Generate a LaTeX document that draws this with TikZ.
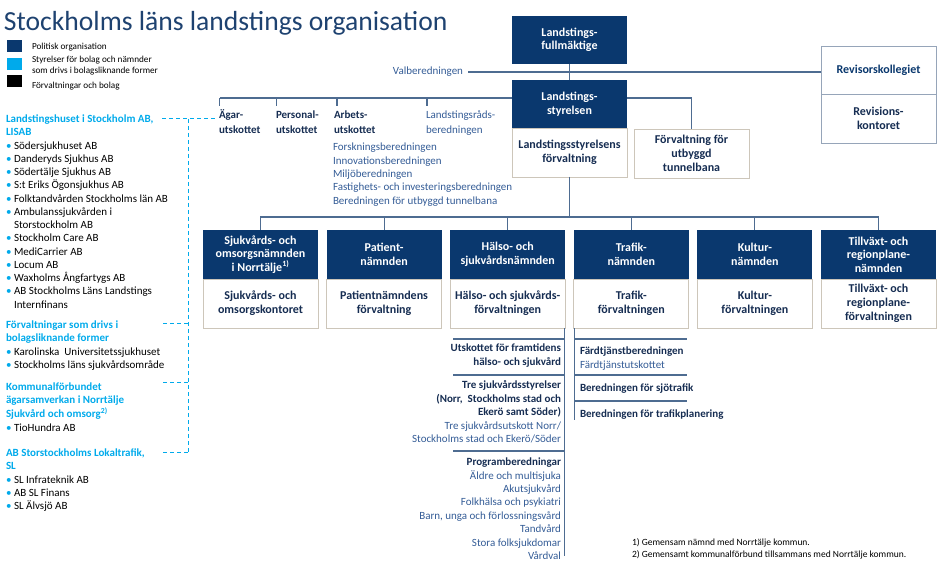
\documentclass[tikz,border=0pt]{standalone}
\usepackage{fontspec}
\setmainfont{Carlito}
\usetikzlibrary{arrows.meta}
\usetikzlibrary{calc,positioning}

\definecolor{navy}{RGB}{10,56,110}
\definecolor{cyanc}{RGB}{0,170,235}
\definecolor{linec}{RGB}{78,108,145}
\definecolor{boxline}{RGB}{205,198,186}
\definecolor{revline}{RGB}{150,165,185}
\definecolor{titleblue}{RGB}{30,66,112}
\definecolor{textnavy}{RGB}{22,45,82}
\definecolor{midblue}{RGB}{52,92,150}

\newcommand{\cyanhead}[1]{{\bfseries\color{cyanc}#1}}
\newcommand{\blt}{\makebox[8pt][l]{\color{cyanc}\textbullet}}
\newcommand{\bltind}{\hspace*{8pt}}
\newcommand{\hdl}[1]{{\bfseries\color{textnavy}#1}}

\begin{document}
\begin{tikzpicture}[x=1pt, y=-1pt,
    every node/.style={inner sep=0pt, outer sep=0pt},
    navybox/.style={fill=navy, text=white, font=\fontsize{12}{13.5}\selectfont\bfseries,
        align=center, minimum width=115pt, minimum height=48pt},
    whitebox/.style={draw=boxline, line width=0.8pt, fill=white, text=textnavy,
        font=\fontsize{12}{14}\selectfont\bfseries, align=center,
        minimum width=115pt, minimum height=49pt},
    revbox/.style={whitebox, draw=revline},
    conn/.style={draw=linec, line width=1.1pt},
    cyandash/.style={draw=cyanc, line width=1pt, dash pattern=on 4pt off 3pt},
    branch/.style={font=\fontsize{11}{15}\selectfont\bfseries, text=textnavy, align=left},
    sublist/.style={font=\fontsize{11}{13.4}\selectfont, text=midblue, align=left},
    leftcol/.style={font=\fontsize{11}{13.25}\selectfont, text=black, align=left},
    legsq/.style={minimum width=15pt, minimum height=12pt},
    legtxt/.style={font=\fontsize{9.2}{11.5}\selectfont, text=black, align=left}]
\useasboundingbox (0,0) rectangle (943,564);

% title and legend
\node[anchor=west, font=\fontsize{27.6}{32}\selectfont, text=titleblue] (title) at (4,23)
    {Stockholms läns landstings organisation};
\node[legsq, fill=navy, anchor=north west] (lg1) at (7,40) {};
\node[legsq, fill=cyanc, anchor=north west] (lg2) at (7,58) {};
\node[legsq, fill=black, anchor=north west] (lg3) at (7,75) {};
\node[legtxt, anchor=west] (lt1) at (32,47) {Politisk organisation};
\node[legtxt, anchor=north west] (lt2) at (32,56) {Styrelser för bolag och nämnder\\som drivs i bolagsliknande former};
\node[legtxt, anchor=west] (lt3) at (32,86) {Förvaltningar och bolag};

% top of the organisation
\node[navybox, anchor=north west] (lf) at (512,16) {Landstings-\\fullmäktige};
\node[navybox, anchor=north west] (ls) at (512,80) {Landstings-\\styrelsen};
\node[whitebox, below=0pt of ls] (lsf) {Landstingsstyrelsens\\förvaltning};
\node[whitebox, anchor=north west] (fut) at (634,129) {Förvaltning för\\utbyggd\\tunnelbana};
\node[revbox, anchor=north west, text=navy, minimum height=48pt] (rk) at (821,46) {Revisorskollegiet};
\node[revbox, below=0pt of rk] (rko) {Revisions-\\kontoret};
\node[font=\fontsize{11}{13}\selectfont, text=midblue] (valb) at (428,72) {Valberedningen};

\draw[conn] (lf) -- (ls);
\draw[conn] ([xshift=5pt]valb.east) -- (valb.east -| rk.west);
\draw[conn] ([yshift=-18pt]ls.north east) -| (fut.north);

% utskott under landstingsstyrelsen
\node[branch, anchor=north west] (agar) at (219,110) {Ägar-\\utskottet};
\node[branch, anchor=north west] (pers) at (276,111) {Personal-\\utskottet};
\node[branch, anchor=north west] (arb) at (334,111) {Arbets-\\utskottet};
\node[sublist, anchor=north west, font=\fontsize{11}{15}\selectfont] (lrb) at (426,111) {Landstingsråds-\\beredningen};
\node[sublist, anchor=north west] (arbl) at (333,143) {Forskningsberedningen\\Innovationsberedningen\\Miljöberedningen\\Fastighets- och investeringsberedningen\\Beredningen för utbyggd tunnelbana};

\coordinate (lsbus) at ([yshift=-18pt]ls.north west);
\draw[conn] (lsbus) -- ([xshift=0.5pt]agar.north west |- lsbus);
\foreach \n/\dx/\dy in {agar/0.5/4, pers/0.5/5, arb/3/5, lrb/1/5}
    \draw[conn] ([xshift=\dx pt]\n.north west |- lsbus) -- ([xshift=\dx pt, yshift=\dy pt]\n.north west);

% nämnder
\foreach \i/\tx/\bx in {
    0/{Sjukvårds- och\\omsorgsnämnden\\i Norrtälje\textsuperscript{1)}}/{Sjukvårds- och\\omsorgskontoret},
    1/{Patient-\\nämnden}/{Patientnämndens\\förvaltning},
    2/{Hälso- och\\sjukvårdsnämnden}/{Hälso- och sjukvårds-\\förvaltningen},
    3/{Trafik-\\nämnden}/{Trafik-\\förvaltningen},
    4/{Kultur-\\nämnden}/{Kultur-\\förvaltningen},
    5/{Tillväxt- och\\regionplane-\\nämnden}/{Tillväxt- och\\regionplane-\\förvaltningen}} {
    \node[navybox, anchor=north west, minimum height=49pt] (n\i) at ({203+123.6*\i},230) {\tx};
    \node[whitebox, below=0pt of n\i] (f\i) {\bx};
}
\coordinate (bar) at (lsf.south |- 0,217);
\draw[conn] (lsf) -- (bar);
\draw[conn] (n0.north) -- (n0.north |- bar) -- (n5.north |- bar) -- (n5.north);
\foreach \i in {1,...,4}
    \draw[conn] (n\i.north |- bar) -- (n\i.north);

% beredningar under hälso- och sjukvårdsnämnden och trafiknämnden
\draw[conn] ([xshift=-1pt]f2.south east) -- ++(0,228);
\draw[conn] ([xshift=1pt]f3.south west) -- ++(0,92);
\foreach \y in {339,375,451}
    \draw[conn] (453,\y) -- (565,\y);
\foreach \y in {339,375,401}
    \draw[conn] (574,\y) -- (687,\y);

\node[sublist, align=right, anchor=north east] (ufh) at (561,344)
    {\hdl{Utskottet för framtidens}\\\hdl{hälso- och sjukvård}};
\node[sublist, align=right, anchor=north east] (tre) at (561,381)
    {\hdl{Tre sjukvårdsstyrelser}\\\hdl{(Norr,~ Stockholms stad och}\\\hdl{Ekerö samt Söder)}\\Tre sjukvårdsutskott Norr/\\Stockholms stad och Ekerö/Söder};
\node[sublist, align=right, anchor=north east] (prog) at (561,458)
    {\hdl{Programberedningar}\\Äldre och multisjuka\\Akutsjukvård\\Folkhälsa och psykiatri\\Barn, unga och förlossningsvård\\Tandvård\\Stora folksjukdomar\\Vårdval};
\node[sublist, anchor=north west] (fard) at (580,347)
    {\hdl{Färdtjänstberedningen}\\Färdtjänstutskottet};
\node[sublist, anchor=north west] (sjo) at (580,384) {\hdl{Beredningen för sjötrafik}};
\node[sublist, anchor=north west] (tpl) at (580,410) {\hdl{Beredningen för trafikplanering}};

% bolag till vänster
\node[leftcol, anchor=north west] (lisab) at (6,115)
    {\cyanhead{Landstingshuset i Stockholm AB,}\\\cyanhead{LISAB}\\
     \blt Södersjukhuset AB\\\blt Danderyds Sjukhus AB\\\blt Södertälje Sjukhus AB\\
     \blt S:t Eriks Ögonsjukhus AB\\\blt Folktandvården Stockholms län AB\\
     \blt Ambulanssjukvården i\\\bltind Storstockholm AB\\\blt Stockholm Care AB\\
     \blt MediCarrier AB\\\blt Locum AB\\\blt Waxholms Ångfartygs AB\\
     \blt AB Stockholms Läns Landstings\\\bltind Internfinans};
\node[leftcol, anchor=north west] (fbf) at (6,321)
    {\cyanhead{Förvaltningar som drivs i}\\\cyanhead{bolagsliknande former}\\
     \blt Karolinska~ Universitetssjukhuset\\\blt Stockholms läns sjukvårdsområde};
\node[leftcol, anchor=north west] (kfb) at (6,383)
    {\cyanhead{Kommunalförbundet}\\\cyanhead{ägarsamverkan i Norrtälje}\\
     \cyanhead{Sjukvård och omsorg\textsuperscript{2)}}\\[1pt]\blt TioHundra AB};
\node[leftcol, anchor=north west] (sl) at (6,449)
    {\cyanhead{AB Storstockholms Lokaltrafik,}\\\cyanhead{SL}\\
     \blt SL Infrateknik AB\\\blt AB SL Finans\\\blt SL Älvsjö AB};

\coordinate (cbus) at (188,119);
\draw[cyandash] (162,119) -- ([xshift=-3pt]agar.north west |- cbus);
\draw[cyandash] (cbus) -- (188,452);
\foreach \y in {323,382,452}
    \draw[cyandash] (163,\y) -- (188,\y);

% fotnoter
\node[legtxt, anchor=north west, font=\fontsize{9.5}{12}\selectfont] (fn) at (632,539)
    {1) Gemensam nämnd med Norrtälje kommun.\\2) Gemensamt kommunalförbund tillsammans med Norrtälje kommun.};
\end{tikzpicture}
\end{document}
